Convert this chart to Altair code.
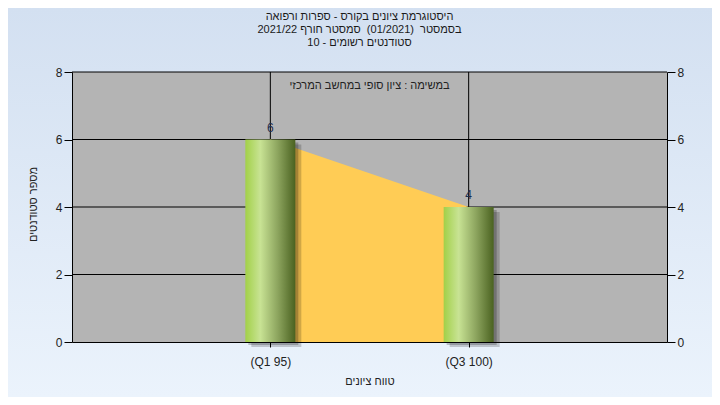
import altair as alt
import pandas as pd

# ---- data ----
categories = ["(Q1 95)", "(Q3 100)"]
counts = [6, 4]
y_ticks = [0, 2, 4, 6, 8]
NB = "\u00a0"
title_lines = [
    "היסטוגרמת ציונים בקורס - ספרות ורפואה",
    "בסמסטר" + NB + NB + "(01/2021)" + NB + NB + "סמסטר חורף 2021/22",
    "סטודנטים רשומים - 10",
]
note = "במשימה : ציון סופי במחשב המרכזי"
x_title = "טווח ציונים"
y_title = "מספר סטודנטים"

RLE, PDF = "\u202B", "\u202C"


def rtl(s):
    return RLE + s + PDF


FONT = "Liberation Sans"
W, H = 595, 270
PAD = {"left": 64, "top": 64, "right": 45, "bottom": 55}

df = pd.DataFrame({"cat": categories, "n": counts})
grid_df = pd.DataFrame({"v": [t for t in y_ticks if t > 0]})
one_df = pd.DataFrame({"t": [rtl(note)]})

xscale = alt.Scale(type="point", domain=categories, padding=1)
yscale = alt.Scale(domain=[y_ticks[0], y_ticks[-1]], nice=False)

x_axis = alt.Axis(
    title=rtl(x_title), titleFont=FONT, titleFontSize=11, titleFontWeight="normal",
    titleColor="#222", titlePadding=8,
    labelFont=FONT, labelFontSize=12, labelColor="#222", labelPadding=9,
    tickSize=5, tickColor="black", domainColor="black", grid=False, labelAngle=0,
    zindex=1,
)
y_axis_left = alt.Axis(
    title=rtl(y_title), titleFont=FONT, titleFontSize=11, titleFontWeight="normal",
    titleColor="#222", titleX=-39, titleY=H / 2 - 3, titleAlign="center", titleBaseline="middle",
    titleAngle=270,
    values=y_ticks, labelFont=FONT, labelFontSize=12, labelColor="#222", labelPadding=2,
    tickSize=8, tickColor="black", domainColor="black", grid=False, zindex=1,
)
y_axis_right = alt.Axis(
    title=None, orient="right", values=y_ticks, labelFont=FONT, labelFontSize=12,
    labelColor="#222", labelPadding=2, tickSize=8, tickColor="black",
    domainColor="black", grid=False, zindex=1,
)


def X():
    return alt.X("cat:N", scale=xscale, axis=x_axis)


def Y(field="n:Q"):
    return alt.Y(field, scale=yscale, axis=y_axis_left)


bg_grad = alt.Gradient(
    gradient="linear", x1=0, x2=0, y1=0, y2=1,
    stops=[alt.GradientStop(color="#d3e0f1", offset=0), alt.GradientStop(color="#ebf3fc", offset=1)],
)
bar_grad = alt.Gradient(
    gradient="linear", x1=0, x2=1, y1=0, y2=0,
    stops=[
        alt.GradientStop(color="#a2d048", offset=0),
        alt.GradientStop(color="#c8e394", offset=0.3),
        alt.GradientStop(color="#8ca45e", offset=0.65),
        alt.GradientStop(color="#4a6220", offset=1),
    ],
)

bg = alt.Chart(one_df).mark_rect(fill=bg_grad).encode(
    x=alt.value(-PAD["left"]), x2=alt.value(W + PAD["right"]),
    y=alt.value(-PAD["top"]), y2=alt.value(H + PAD["bottom"]),
)
plot_bg = alt.Chart(one_df).mark_rect(fill="#b4b4b4").encode(
    x=alt.value(0), x2=alt.value(W), y=alt.value(0), y2=alt.value(H)
)
hgrid = alt.Chart(grid_df).mark_rule(color="black", strokeWidth=1).encode(y=Y("v:Q"))
vgrid = alt.Chart(df).mark_rule(color="black", strokeWidth=1).encode(x=X())
area = alt.Chart(df).mark_area(color="#ffcc55", opacity=1).encode(x=X(), y=Y())
shadow1 = alt.Chart(df).mark_bar(width=50, color="black", opacity=0.18, xOffset=6, yOffset=5, y2Offset=5).encode(x=X(), y=Y())
shadow2 = alt.Chart(df).mark_bar(width=50, color="black", opacity=0.22, xOffset=3, yOffset=3, y2Offset=3).encode(x=X(), y=Y())
bars = alt.Chart(df).mark_bar(width=50, fill=bar_grad).encode(x=X(), y=Y())
labels = alt.Chart(df).mark_text(dy=-12, font=FONT, fontSize=12, color="#1e2d4d").encode(
    x=X(), y=Y(), text="n:Q"
)
note_txt = alt.Chart(one_df).mark_text(font=FONT, fontSize=11, color="#222").encode(
    x=alt.value(W / 2), y=alt.value(14), text="t:N"
)

left = alt.layer(bg, plot_bg, hgrid, vgrid, area, shadow1, shadow2, bars, labels, note_txt)
right = alt.Chart(df).mark_bar(width=50, opacity=0).encode(
    x=X(), y=alt.Y("n:Q", scale=yscale, axis=y_axis_right)
)

chart = (
    alt.layer(left, right)
    .resolve_scale(y="independent")
    .properties(
        width=W, height=H,
        autosize=alt.AutoSizeParams(type="none"),
        padding=PAD,
        background="#dfe9f6",
        title=alt.TitleParams(
            text=[rtl(t) for t in title_lines], font=FONT, fontSize=11, fontWeight="normal",
            color="#1a1a1a", anchor="middle", frame="group", dx=-10, offset=-40, lineHeight=13,
        ),
    )
    .configure_view(stroke="black", strokeWidth=1)
)

chart.save("out.html", embed_options={"renderer": "svg", "actions": False})
